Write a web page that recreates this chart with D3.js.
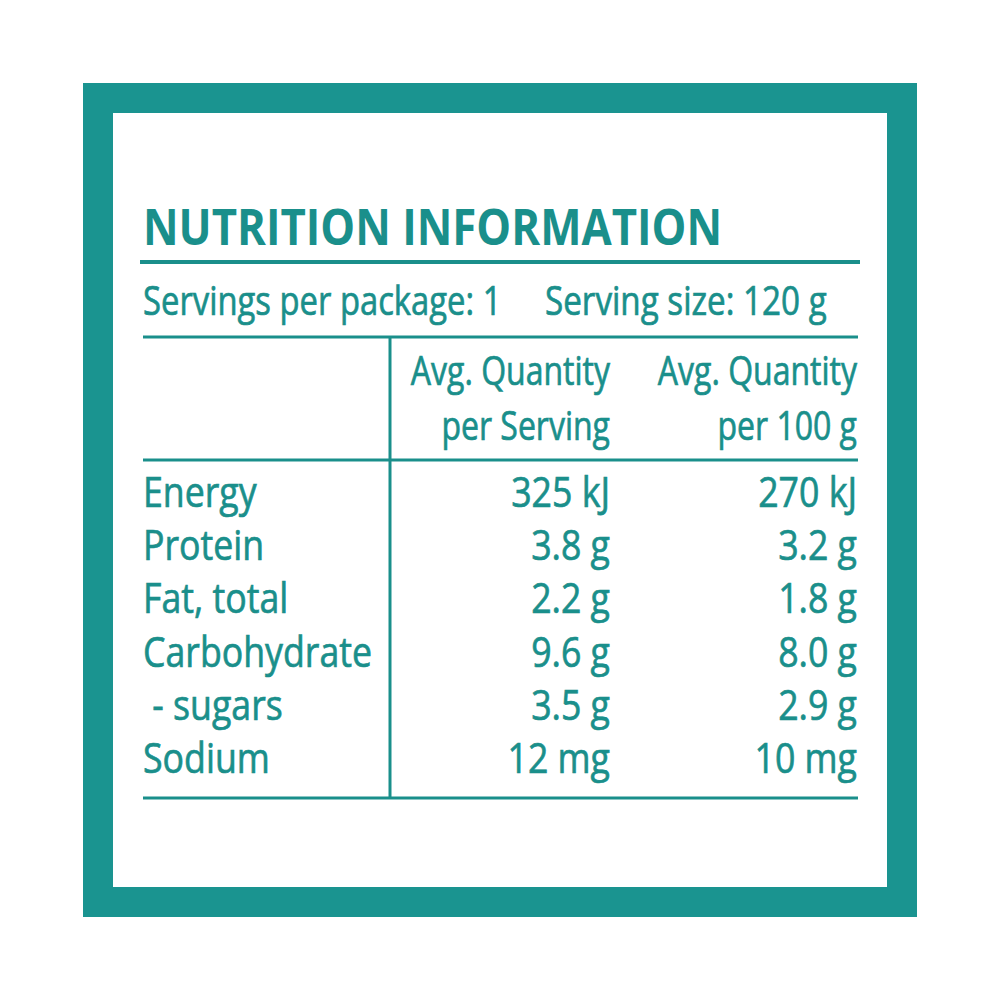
<!DOCTYPE html><html><head><meta charset="utf-8">
<script src="https://cdn.jsdelivr.net/npm/d3@7"></script>
<style>body{margin:0;background:#fff}text{font-family:"Open Sans",sans-serif;fill:#1a8f8b}</style></head><body>
<script>
const nutrients = ["Energy","Protein","Fat, total","Carbohydrate"," - sugars","Sodium"];
const perServing = ["325 kJ","3.8 g","2.2 g","9.6 g","3.5 g","12 mg"];
const per100g = ["270 kJ","3.2 g","1.8 g","8.0 g","2.9 g","10 mg"];
const headers = [["Avg. Quantity","per Serving"],["Avg. Quantity","per 100 g"]];
const title = "NUTRITION INFORMATION";
const servingsText = ["Servings per package: 1","Serving size: 120 g"];

const teal="#1a9490", tc="#1a8f8b";
const svg=d3.select("body").append("svg").attr("width",1000).attr("height",1000);
svg.append("rect").attr("x",98).attr("y",98).attr("width",804).attr("height",804).attr("fill","#fff").attr("stroke",teal).attr("stroke-width",30);
const y=d3.scalePoint().domain(nutrients).range([507,773]);
function txt(s,x,yy,size,anchor,sx){
  const g=svg.append("g").attr("transform",`translate(${x},${yy}) scale(${sx},1)`);
  g.append("text").text(s).attr("font-size",size).attr("text-anchor",anchor||"start")
   .attr("stroke",tc).attr("stroke-width",0.7).style("white-space","pre");
}
svg.append("text").text(title).attr("x",143).attr("y",245).attr("font-size",50).attr("font-weight",700)
  .attr("textLength",579).attr("lengthAdjust","spacingAndGlyphs");
const line=(x1,y1,x2,y2,w)=>svg.append("line").attr("x1",x1).attr("y1",y1).attr("x2",x2).attr("y2",y2).attr("stroke",tc).attr("stroke-width",w);
line(140,262,860,262,4);
line(143,337,858,337,3);
line(143,460,858,460,3);
line(143,798,858,798,3);
line(390,337,390,798,3);
txt(servingsText[0],143,315,40,"start",0.82);
txt(servingsText[1],545,315,40,"start",0.83);
[610,857].forEach((x,i)=>{txt(headers[i][0],x,385,40,"end",0.8);txt(headers[i][1],x,440,40,"end",0.8);});
nutrients.forEach((n,i)=>{
  txt(n,143,y(n),42,"start",0.85);
  txt(perServing[i],610,y(n),42,"end",0.85);
  txt(per100g[i],857,y(n),42,"end",0.85);
});
</script></body></html>
